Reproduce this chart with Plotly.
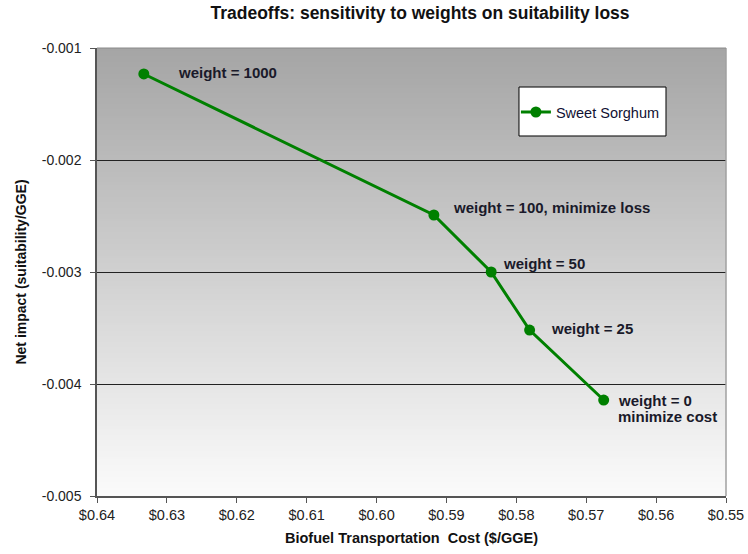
import plotly.graph_objects as go

# Sweet Sorghum tradeoff curve: cost vs. net suitability impact for each weight
cost = [0.6333, 0.5918, 0.5836, 0.5781, 0.5675]
impact = [-0.001232, -0.002491, -0.003000, -0.003518, -0.004143]
labels = [["weight = 1000"], ["weight = 100, minimize loss"], ["weight = 50"],
          ["weight = 25"], ["weight = 0", "minimize cost"]]
label_dx = [32, 17, 10, 19, 12]
label_dy = [1, 7, 9, 2, 0]
line_step = 16

x_ticks = [0.64, 0.63, 0.62, 0.61, 0.60, 0.59, 0.58, 0.57, 0.56, 0.55]
y_ticks = [-0.005, -0.004, -0.003, -0.002, -0.001]

GREEN = "#008000"
FONT = "Liberation Sans, Arial, sans-serif"

fig = go.Figure()
fig.add_trace(go.Scatter(
    x=cost, y=impact, mode="lines+markers", name="Sweet Sorghum",
    line=dict(color=GREEN, width=3),
    marker=dict(color=GREEN, size=11),
))

# vertical gray gradient behind the plot area (overlapping strips, no seams)
n = 160
top = (165, 165, 165)
bot = (251, 251, 251)
shapes = []
for i in range(n):
    t = i / (n - 1)
    c = tuple(round(top[k] + (bot[k] - top[k]) * t) for k in range(3))
    y1 = 1 - i / n
    y0 = max(0.0, 1 - (i + 1) / n - 0.6 / n)
    shapes.append(dict(
        type="rect", xref="x domain", yref="y domain",
        x0=0, x1=1, y0=y0, y1=y1,
        fillcolor="rgb(%d,%d,%d)" % c, line=dict(width=0), layer="below",
    ))
# plot-area frame on the top and right
shapes.append(dict(type="line", xref="x domain", yref="y domain",
                   x0=1, x1=1, y0=0, y1=1, line=dict(color="#a0a0a0", width=1.5)))
shapes.append(dict(type="line", xref="x domain", yref="y domain",
                   x0=0, x1=1, y0=1, y1=1, line=dict(color="#8a8a8a", width=1)))
# legend box
shapes.append(dict(type="rect", xref="paper", yref="paper",
                   x0=0.6709, x1=0.9046, y0=0.8036, y1=0.9129,
                   fillcolor="white", line=dict(color="black", width=1),
                   layer="above"))

annotations = []
for xv, yv, lines, dx, dy in zip(cost, impact, labels, label_dx, label_dy):
    for j, txt in enumerate(lines):
        annotations.append(dict(
            x=xv, y=yv, text="<b>%s</b>" % txt, showarrow=False,
            xanchor="left", yanchor="middle", align="left",
            xshift=dx, yshift=dy - j * line_step,
            font=dict(family=FONT, size=15, color="#1a1a2a"),
        ))

fig.update_layout(
    width=748, height=554,
    margin=dict(l=97, r=22, t=48, b=58),
    paper_bgcolor="white", plot_bgcolor="rgba(0,0,0,0)",
    title=dict(text="<b>Tradeoffs: sensitivity to weights on suitability loss</b>",
               x=420 / 748, xanchor="center", xref="container",
               y=1 - 13 / 554, yanchor="middle", yref="container",
               automargin=False,
               font=dict(family=FONT, size=17.5, color="#111111")),
    shapes=shapes, annotations=annotations,
    legend=dict(x=0.666, y=0.857, xanchor="left", yanchor="middle",
                bgcolor="rgba(0,0,0,0)", borderwidth=0,
                font=dict(family=FONT, size=14.5, color="#111133"),
                itemwidth=30),
    showlegend=True,
)

fig.update_xaxes(
    range=[0.64, 0.55], tickvals=x_ticks,
    ticktext=["$%.2f" % v for v in x_ticks],
    showgrid=False, zeroline=False, automargin=False,
    showline=True, linecolor="#555555", linewidth=1.5,
    ticks="outside", ticklen=5, tickcolor="#555555",
    tickfont=dict(family=FONT, size=14.5, color="#222222"),
    title=dict(text="<b>Biofuel Transportation  Cost ($/GGE)</b>", standoff=11,
               font=dict(family=FONT, size=14.5, color="#111111")),
)
fig.update_yaxes(
    range=[-0.005, -0.001], tickvals=y_ticks,
    ticktext=["%.3f" % v for v in y_ticks],
    showgrid=True, gridcolor="#222222", gridwidth=1, zeroline=False,
    automargin=False,
    showline=True, linecolor="#555555", linewidth=1.5,
    ticks="outside", ticklen=5, tickcolor="#555555", ticklabelstandoff=6,
    tickfont=dict(family=FONT, size=14, color="#222222"),
    title=dict(text="<b>Net impact (suitability/GGE)</b>", standoff=12,
               font=dict(family=FONT, size=14, color="#111111")),
)

fig.write_html("out.html")
